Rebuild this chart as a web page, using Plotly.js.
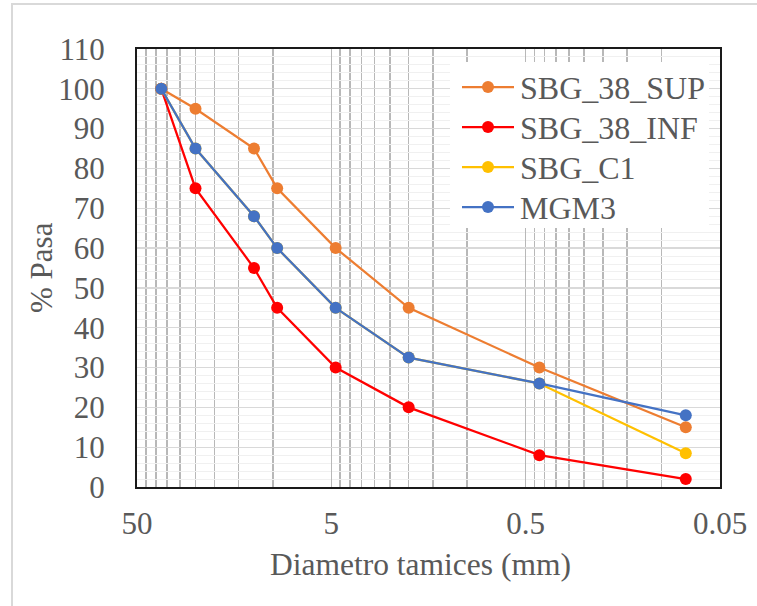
<!DOCTYPE html>
<html>
<head>
<meta charset="utf-8">
<script src="https://cdn.plot.ly/plotly-3.0.1.min.js"></script>
<style>
  html, body { margin: 0; padding: 0; background: #ffffff; overflow: hidden; }
  #chart { width: 757px; height: 606px; position: absolute; left: 0; top: 0; }
  #frame { position: absolute; left: 11px; top: 3px; width: 900px; height: 900px;
           border-left: 2px solid #d9d9d9; border-top: 2px solid #d9d9d9; pointer-events: none; z-index: 5; }
</style>
</head>
<body>
<div id="chart"></div>
<div id="frame"></div>
<script>
// Sieve diameters (mm)
const diametro = [37.5, 25, 12.5, 9.5, 4.75, 2, 0.425, 0.075];
// % passing
const sbg38Sup = [100, 95, 85, 75, 60, 45, 30, 15];
const sbg38Inf = [100, 75, 55, 45, 30, 20, 8, 2];
const sbgC1    = [100, 85, 68, 60, 45, 32.5, 26, 8.5];
const mgm3     = [100, 85, 68, 60, 45, 32.5, 26, 18];

const seriesNames  = ['SBG_38_SUP', 'SBG_38_INF', 'SBG_C1', 'MGM3'];
const seriesColors = ['#ED7D31', '#FF0000', '#FFC000', '#4472C4'];
const seriesValues = [sbg38Sup, sbg38Inf, sbgC1, mgm3];

// Axis ticks and titles
const xTickVals = [50, 5, 0.5, 0.05];
const xTickText = ['50', '5', '0.5', '0.05'];
const xMinorVals = [45, 40, 35, 30, 25, 20, 15, 10,
                    4.5, 4, 3.5, 3, 2.5, 2, 1.5, 1,
                    0.45, 0.4, 0.35, 0.3, 0.25, 0.2, 0.15, 0.1];
const xTitle = 'Diametro tamices (mm)';
const yTitle = '% Pasa';

const textColor = '#595959';
const fontFam = 'Liberation Serif';

// plot area in pixels (for placing the legend box and axis titles)
const M = { l: 137, r: 37, t: 49, b: 119 };
const W = 757, H = 606;
const pw = W - M.l - M.r, ph = H - M.t - M.b;
const px = v => (v - M.l) / pw;
const py = v => (H - M.b - v) / ph;

const traces = seriesNames.map((name, i) => ({
  type: 'scatter',
  mode: 'lines+markers',
  name: name,
  x: diametro,
  y: seriesValues[i],
  line: { color: seriesColors[i], width: 2.25 },
  marker: { color: seriesColors[i], size: 12, symbol: 'circle' },
  showlegend: false
}));

// custom legend (box, sample line, marker, label)
const shapes = [{
  type: 'rect', xref: 'paper', yref: 'paper', layer: 'above',
  x0: px(450), x1: px(709), y0: py(62), y1: py(228),
  fillcolor: '#ffffff', line: { width: 0 }
}];
const annotations = [];
seriesNames.forEach((name, i) => {
  const yc = 87 + 40 * i;
  shapes.push({
    type: 'line', xref: 'paper', yref: 'paper', layer: 'above',
    x0: px(462), x1: px(514), y0: py(yc), y1: py(yc),
    line: { color: seriesColors[i], width: 2.25 }
  });
  shapes.push({
    type: 'circle', xref: 'paper', yref: 'paper', layer: 'above',
    xsizemode: 'pixel', ysizemode: 'pixel', xanchor: px(488), yanchor: py(yc),
    x0: -6, x1: 6, y0: -6, y1: 6,
    fillcolor: seriesColors[i], line: { width: 0 }
  });
  annotations.push({
    xref: 'paper', yref: 'paper', x: px(518), y: py(yc + 1),
    xanchor: 'left', yanchor: 'middle', showarrow: false,
    text: name, font: { family: fontFam, size: 32, color: textColor }
  });
});
// axis titles
annotations.push({
  xref: 'paper', yref: 'paper', x: px(420), y: py(564),
  xanchor: 'center', yanchor: 'middle', showarrow: false,
  text: xTitle, font: { family: fontFam, size: 31.5, color: textColor }
});
annotations.push({
  xref: 'paper', yref: 'paper', x: px(41), y: py(268),
  xanchor: 'center', yanchor: 'middle', showarrow: false, textangle: -90,
  text: yTitle, font: { family: fontFam, size: 31, color: textColor }
});

const layout = {
  width: W,
  height: H,
  margin: { l: M.l, r: M.r, t: M.t, b: M.b, pad: 0 },
  paper_bgcolor: '#ffffff',
  plot_bgcolor: '#ffffff',
  font: { family: fontFam, size: 31, color: textColor },
  showlegend: false,
  shapes: shapes,
  annotations: annotations,
  xaxis: {
    type: 'log',
    range: [Math.log10(50), Math.log10(0.05)],
    tickmode: 'array',
    tickvals: xTickVals,
    ticktext: xTickText,
    ticks: '',
    ticklabelstandoff: 8,
    showgrid: true,
    gridcolor: '#b8b8b8',
    gridwidth: 1.6,
    minor: { tickmode: 'array', tickvals: xMinorVals, showgrid: true, gridcolor: '#b8b8b8', gridwidth: 1.6, ticks: '' },
    showline: true, mirror: true, linecolor: '#1a1a1a', linewidth: 2,
    zeroline: false,
    tickfont: { family: fontFam, size: 31, color: textColor }
  },
  yaxis: {
    range: [0, 110],
    tickmode: 'linear', tick0: 0, dtick: 10,
    ticks: '',
    ticklabelstandoff: 24,
    showgrid: true,
    gridcolor: '#d9d9d9',
    gridwidth: 1.3,
    minor: { dtick: 2, showgrid: true, gridcolor: '#f0f0f0', gridwidth: 1, ticks: '' },
    showline: true, mirror: true, linecolor: '#1a1a1a', linewidth: 2,
    zeroline: false,
    tickfont: { family: fontFam, size: 31, color: textColor }
  }
};

Plotly.newPlot('chart', traces, layout, { displayModeBar: false, staticPlot: true });
</script>
</body>
</html>
